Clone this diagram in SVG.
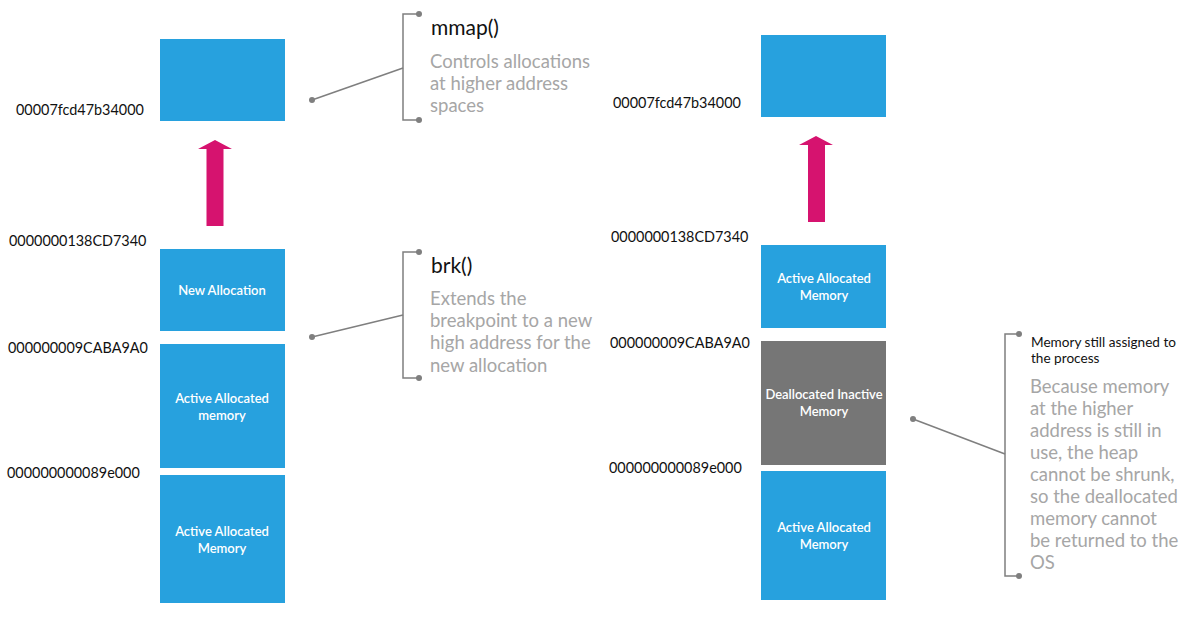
<svg xmlns="http://www.w3.org/2000/svg" width="1200" height="619" viewBox="0 0 1200 619">
<style>
.blue{fill:#27a1de}
.gray{fill:#767676}
.arrow{fill:#d6136f}
.addr{font-family:Lato,"Liberation Sans",sans-serif;font-size:14.4px;fill:#111}
.box{font-family:Lato,"Liberation Sans",sans-serif;font-size:13px;fill:#fff;font-weight:600;text-anchor:middle}
.title{font-family:Lato,"Liberation Sans",sans-serif;font-size:21px;fill:#111}
.desc{font-family:Lato,"Liberation Sans",sans-serif;font-size:18.5px;fill:#a6a6a6}
.note{font-family:Lato,"Liberation Sans",sans-serif;font-size:13.6px;fill:#111}
.ln{stroke:#7f7f7f;stroke-width:1.5;fill:none}
.dot{fill:#7f7f7f}
</style>
<rect width="1200" height="619" fill="#fff"/>
<g id="left-top"><rect class="blue" x="160" y="39" width="125" height="82"/></g>
<g id="left-arrow"><polygon class="arrow" points="206.5,226 223.5,226 223.5,149 232,149 215,140 198,149 206.5,149"/></g>
<g id="left-new"><rect class="blue" x="160" y="249" width="125" height="82"/><text class="box" x="222" y="295">New Allocation</text></g>
<g id="left-active1"><rect class="blue" x="160" y="344" width="125" height="124"/><text class="box" x="222" y="403">Active Allocated</text><text class="box" x="222" y="420">memory</text></g>
<g id="left-active2"><rect class="blue" x="160" y="475" width="125" height="128"/><text class="box" x="222" y="536">Active Allocated</text><text class="box" x="222" y="553">Memory</text></g>
<g id="left-addrs">
<text class="addr" x="16" y="115">00007fcd47b34000</text>
<text class="addr" x="9" y="246">0000000138CD7340</text>
<text class="addr" x="8" y="353">000000009CABA9A0</text>
<text class="addr" x="7" y="478">000000000089e000</text>
</g>
<g id="mmap-note">
<text class="title" x="431" y="35">mmap()</text>
<text class="desc" x="430" y="68">Controls allocations</text>
<text class="desc" x="430" y="90">at higher address</text>
<text class="desc" x="430" y="112">spaces</text>
</g>
<g id="brk-note">
<text class="title" x="431" y="273">brk()</text>
<text class="desc" x="430" y="305">Extends the</text>
<text class="desc" x="430" y="327">breakpoint to a new</text>
<text class="desc" x="430" y="349">high address for the</text>
<text class="desc" x="430" y="372">new allocation</text>
</g>
<g id="right-top"><rect class="blue" x="761" y="35" width="125" height="82"/></g>
<g id="right-arrow"><polygon class="arrow" points="808,222 825,222 825,145 833,145 816,136 799,145 808,145"/></g>
<g id="right-active1"><rect class="blue" x="761" y="245" width="125" height="83"/><text class="box" x="824" y="283">Active Allocated</text><text class="box" x="824" y="300">Memory</text></g>
<g id="right-dealloc"><rect class="gray" x="761" y="341" width="125" height="124"/><text class="box" x="824" y="399">Deallocated Inactive</text><text class="box" x="824" y="416">Memory</text></g>
<g id="right-active2"><rect class="blue" x="761" y="471" width="125" height="129"/><text class="box" x="824" y="532">Active Allocated</text><text class="box" x="824" y="549">Memory</text></g>
<g id="right-addrs">
<text class="addr" x="613" y="108">00007fcd47b34000</text>
<text class="addr" x="611" y="242">0000000138CD7340</text>
<text class="addr" x="610" y="348">000000009CABA9A0</text>
<text class="addr" x="609" y="473">000000000089e000</text>
</g>
<g id="retained-note">
<text class="note" x="1031" y="347">Memory still assigned to</text>
<text class="note" x="1031" y="363">the process</text>
<text class="desc" x="1030" y="393">Because memory</text>
<text class="desc" x="1030" y="415">at the higher</text>
<text class="desc" x="1030" y="437">address is still in</text>
<text class="desc" x="1030" y="459">use, the heap</text>
<text class="desc" x="1030" y="481">cannot be shrunk,</text>
<text class="desc" x="1030" y="503">so the deallocated</text>
<text class="desc" x="1030" y="525">memory cannot</text>
<text class="desc" x="1030" y="547">be returned to the</text>
<text class="desc" x="1030" y="569">OS</text>
</g>
<g id="connectors">
<polyline class="ln" points="419,14 403,14 403,120 419,120"/>
<line class="ln" x1="312" y1="100" x2="403" y2="68"/>
<circle class="dot" cx="312" cy="100" r="3"/><circle class="dot" cx="419" cy="14" r="3"/><circle class="dot" cx="419" cy="120" r="3"/>
<polyline class="ln" points="419,252 403,252 403,378 419,378"/>
<line class="ln" x1="312" y1="337" x2="403" y2="315"/>
<circle class="dot" cx="312" cy="337" r="3"/><circle class="dot" cx="419" cy="252" r="3"/><circle class="dot" cx="419" cy="378" r="3"/>
<polyline class="ln" points="1019,334 1005,334 1005,576 1019,576"/>
<line class="ln" x1="913" y1="419" x2="1005" y2="454"/>
<circle class="dot" cx="913" cy="419" r="3"/><circle class="dot" cx="1019" cy="334" r="3"/><circle class="dot" cx="1019" cy="576" r="3"/>
</g>
</svg>
